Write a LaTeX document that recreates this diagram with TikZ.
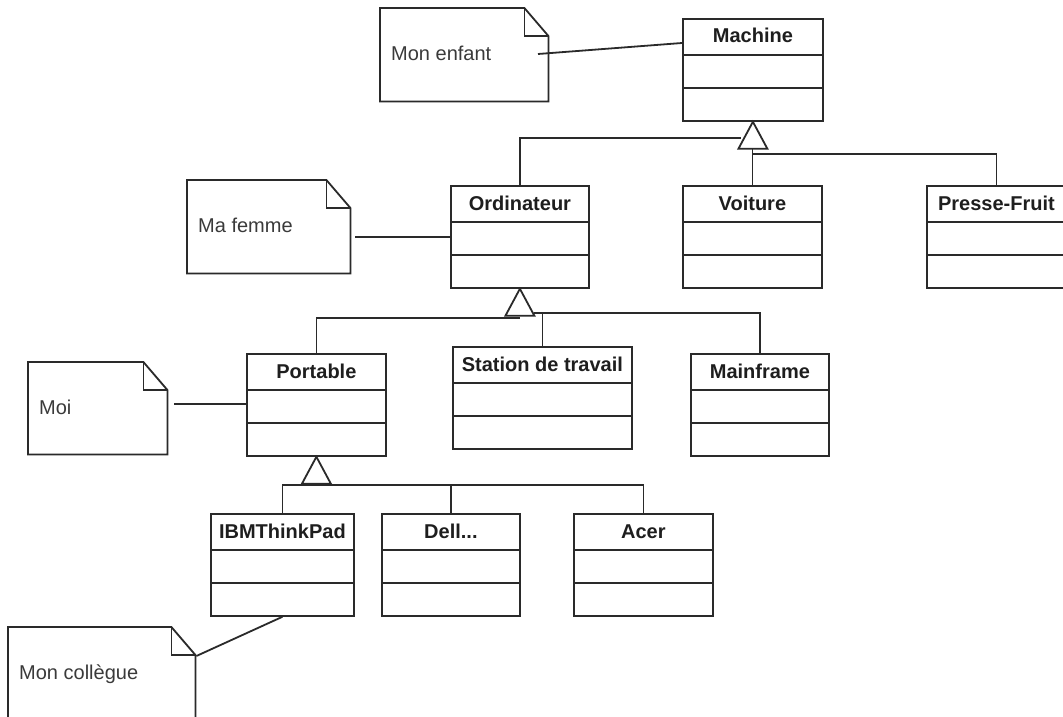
\documentclass[tikz,border=0pt]{standalone}
\usepackage{fontspec}
\setmainfont{Liberation Sans}
\definecolor{ln}{HTML}{2A2A2A}
\definecolor{txt}{HTML}{1E1E1E}
\definecolor{txtn}{HTML}{3A3A3A}
\tikzset{
  classbox/.style={draw=ln, line width=1.8pt, fill=white, rectangle, inner sep=0pt, minimum height=102pt, anchor=north west},
  classname/.style={font=\fontsize{20}{24}\selectfont\bfseries, text=txt, anchor=base, inner sep=0pt},
  noteanchor/.style={rectangle, inner sep=0pt, anchor=north west},
  notetext/.style={font=\fontsize{20}{24}\selectfont, text=txtn, anchor=base west, inner sep=0pt},
  conn/.style={draw=ln, line width=1.8pt},
  trishape/.style={draw=ln, line width=1.8pt, fill=white, line join=miter}
}
\newcommand{\umlclass}[5]{%
  \node[classbox, minimum width=#4pt] (#1) at (#2,#3) {};
  \node[classname] (#1-t) at ([yshift=-25pt]#1.north) {#5};
  \draw[conn] ([yshift=-37pt]#1.north west) -- ([yshift=-37pt]#1.north east);
  \draw[conn] ([yshift=-70pt]#1.north west) -- ([yshift=-70pt]#1.north east);
}
\newcommand{\umlnote}[6]{%
  \node[noteanchor, minimum width=#4pt, minimum height=#5pt] (#1) at (#2,#3) {};
  \draw[conn, fill=white] (#1.north west) -- ([xshift=-24pt]#1.north east) -- ([yshift=-28pt]#1.north east) -- (#1.south east) -- (#1.south west) -- cycle;
  \draw[conn] ([xshift=-24pt]#1.north east) -- ([xshift=-24pt,yshift=-28pt]#1.north east) -- ([yshift=-28pt]#1.north east);
  \node[notetext] (#1-t) at ([xshift=11pt,yshift=-52pt]#1.north west) {#6};
}
\newcommand{\gentri}[2]{%
  \draw[trishape] (#1.south) -- ([xshift=14.5pt,yshift=-27pt]#1.south) -- ([xshift=-14.5pt,yshift=-27pt]#1.south) -- cycle;
}
\begin{document}
\begin{tikzpicture}[x=1pt,y=-1pt]
\useasboundingbox[fill=white] (0,0) rectangle (1063,717);

% classes
\umlclass{machine}{682}{18}{140}{Machine}
\umlclass{ordi}{450}{185}{138}{Ordinateur}
\umlclass{voiture}{682}{185}{139}{Voiture}
\umlclass{presse}{926}{185}{139}{Presse-Fruit}
\umlclass{portable}{246}{353}{139}{Portable}
\umlclass{station}{452}{346}{179}{Station de travail}
\umlclass{mainframe}{690}{353}{138}{Mainframe}
\umlclass{ibm}{210}{513}{143}{IBMThinkPad}
\umlclass{dell}{381}{513}{138}{Dell...}
\umlclass{acer}{573}{513}{139}{Acer}

% notes
\umlnote{n1}{380}{8}{168}{93}{Mon enfant}
\umlnote{n2}{187}{180}{163}{93}{Ma femme}
\umlnote{n3}{28}{362}{139}{92}{Moi}
\umlnote{n4}{8}{627}{187}{95}{Mon collègue}

% note connectors
\coordinate (n1c) at (538,54);
\draw[conn] (n1c) -- ([yshift=-25pt]machine.north west);
\coordinate (n2c) at (355,237);
\draw[conn] (n2c) -- (n2c -| ordi.west);
\coordinate (n3c) at (174,404);
\draw[conn] (n3c) -- (n3c -| portable.west);
\draw[conn] ([xshift=1pt,yshift=-29pt]n4.north east) -- (ibm.south);

% generalization: Machine
\coordinate (t1) at ([yshift=-27pt]machine.south);
\coordinate (b1) at (741,138);
\draw[conn] (ordi.north) |- (b1);
\draw[conn] (voiture.north) -- (voiture.north |- t1);
\draw[conn] (presse.north) |- ([yshift=-5pt]t1);

% generalization: Ordinateur
\coordinate (t2) at ([yshift=-27pt]ordi.south);
\draw[conn] (portable.north) |- ([yshift=-2pt]t2);
\coordinate (b2) at ([xshift=14pt,yshift=3pt]t2);
\draw[conn] (station.north) |- (b2);
\draw[conn] (b2) -| (mainframe.north);

% generalization: Portable
\coordinate (t3) at ([yshift=-27pt]portable.south);
\coordinate (b3) at ([yshift=-1.5pt]t3);
\draw[conn] (ibm.north) |- (b3) -| (acer.north);
\draw[conn] (dell.north) -- (dell.north |- b3);

% triangles
\gentri{machine}{tri1}
\gentri{ordi}{tri2}
\gentri{portable}{tri3}
\end{tikzpicture}
\end{document}
